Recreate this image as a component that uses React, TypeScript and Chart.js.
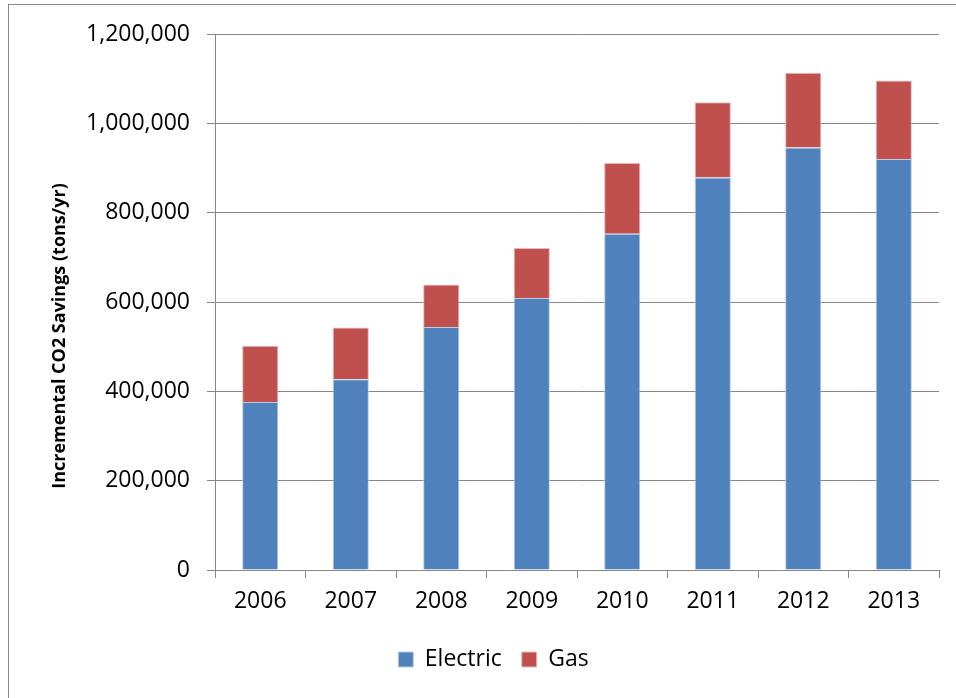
import React, { useEffect, useRef } from 'react';
import { Chart, registerables } from 'chart.js';

Chart.register(...registerables);

const years = ['2006', '2007', '2008', '2009', '2010', '2011', '2012', '2013'];
const electric = [376000, 427000, 544000, 609000, 753000, 879000, 946000, 920000];
const gas = [126000, 116000, 95000, 112000, 158000, 168000, 167000, 176000];
const yTitle = 'Incremental CO2 Savings (tons/yr)';

const FONT = '"Open Sans", Lato, sans-serif';
const GRID = '#868686';

// y-axis title sits a bit below the middle of the plot in the original
const yTitlePlugin = {
  id: 'yTitle',
  afterDraw(chart: any) {
    const { ctx, chartArea } = chart;
    ctx.save();
    ctx.translate(60, chartArea.bottom - 234);
    ctx.rotate(-Math.PI / 2);
    ctx.font = `bold 18px ${FONT}`;
    ctx.fillStyle = '#000';
    ctx.textAlign = 'center';
    ctx.textBaseline = 'middle';
    ctx.fillText(yTitle, 0, 0);
    ctx.restore();
  },
};

const App: React.FC = () => {
  const canvasRef = useRef<HTMLCanvasElement | null>(null);

  useEffect(() => {
    const canvas = canvasRef.current;
    if (!canvas) return;
    const ctx = canvas.getContext('2d');
    if (!ctx) return;

    const chart = new Chart(ctx, {
      type: 'bar',
      data: {
        labels: years,
        datasets: [
          {
            label: 'Electric',
            data: electric,
            backgroundColor: '#4F81BD',
            borderColor: '#B9CDE5',
            borderWidth: 1,
          },
          {
            label: 'Gas',
            data: gas,
            backgroundColor: '#C0504D',
            borderColor: '#E6B9B8',
            borderWidth: 1,
          },
        ],
      },
      options: {
        responsive: false,
        animation: false,
        datasets: {
          bar: {
            categoryPercentage: 1,
            barPercentage: 0.4,
          },
        },
        layout: {
          padding: { top: 34, right: 17, bottom: 17, left: 48 },
        },
        plugins: {
          tooltip: { enabled: false },
          legend: {
            position: 'bottom',
            labels: {
              boxWidth: 15,
              boxHeight: 15,
              padding: 20,
              color: '#000',
              font: { family: FONT, size: 23 },
            },
          },
        },
        scales: {
          x: {
            stacked: true,
            afterFit: (scale: any) => {
              scale.height = 58;
            },
            grid: {
              offset: true,
              drawOnChartArea: false,
              drawTicks: true,
              tickLength: 8,
              color: GRID,
            },
            border: { color: GRID, width: 1 },
            ticks: {
              padding: 10,
              color: '#000',
              font: { family: FONT, size: 23 },
            },
          },
          y: {
            stacked: true,
            min: 0,
            max: 1200000,
            afterFit: (scale: any) => {
              scale.width = 167;
            },
            grid: {
              color: GRID,
              lineWidth: 1,
              drawTicks: true,
              tickLength: 8,
            },
            border: { color: GRID, width: 1 },
            ticks: {
              stepSize: 200000,
              padding: 17,
              color: '#000',
              font: { family: FONT, size: 23 },
              callback: (v: any) => Number(v).toLocaleString('en-US'),
            },
          },
        },
      },
      plugins: [yTitlePlugin],
    });

    return () => {
      chart.destroy();
    };
  }, []);

  return (
    <div style={{ position: 'fixed', left: 0, top: 0, width: 956, height: 698, background: '#fff' }}>
      <div
        style={{
          position: 'absolute',
          left: 8,
          top: 4,
          width: 1000,
          height: 800,
          borderLeft: '1px solid #888',
          borderTop: '1px solid #888',
        }}
      />
      <canvas
        ref={canvasRef}
        width={956}
        height={698}
        style={{ position: 'absolute', left: 0, top: 0, width: 956, height: 698 }}
      />
    </div>
  );
};

export default App;
